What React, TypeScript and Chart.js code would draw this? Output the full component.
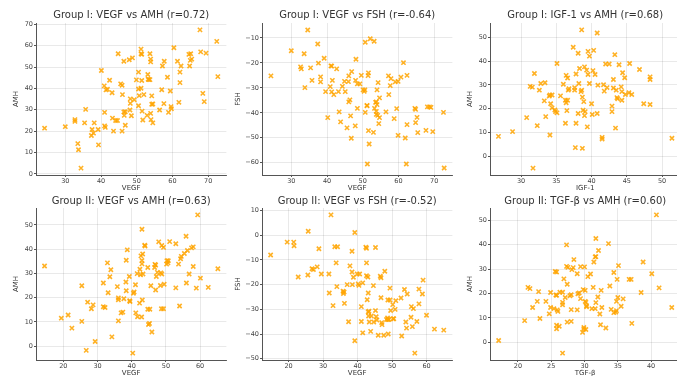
import React, { useEffect, useRef } from 'react';
import { Chart, registerables } from 'chart.js';

Chart.register(...registerables);

// ---------- DATA ----------
const g1VegfAmh: number[][] = [
  [24.2,21.4],[30.0,22.1],[32.7,25.4],[32.7,24.6],[35.4,23.9],[35.7,30.2],[33.5,14.2],[33.7,11.3],[34.4,2.7],[37.5,20.8],
  [37.3,18.0],[38.1,23.9],[37.9,19.1],[39.2,20.8],[39.3,13.6],[40.1,48.4],[40.9,41.2],[41.0,28.8],[41.0,22.5],[41.2,21.8],
  [41.4,39.3],[41.8,39.6],[42.4,43.8],[43.1,38.0],[43.2,26.1],[43.5,20.0],[44.1,25.0],[44.6,25.0],[44.8,56.2],[45.5,42.1],
  [45.9,41.5],[46.0,37.1],[45.9,20.0],[46.4,52.7],[46.4,29.0],[46.5,27.4],[46.8,29.1],[46.8,22.8],[47.9,53.4],[48.1,29.9],
  [48.2,35.1],[48.2,33.0],[48.5,27.2],[48.8,54.3],[49.3,34.7],[49.9,44.0],[50.5,47.6],[50.5,39.7],[50.5,31.9],[50.7,36.6],
  [51.2,40.1],[51.2,58.4],[51.2,56.2],[51.4,56.0],[51.4,43.7],[51.5,29.4],[51.7,25.2],[52.0,37.1],[52.9,27.4],[53.1,46.5],
  [53.2,44.3],[53.4,44.1],[53.7,44.1],[53.7,56.2],[53.9,53.7],[53.9,52.4],[53.9,28.3],[54.0,25.4],[54.2,36.5],[54.2,32.6],
  [54.5,32.7],[54.5,23.9],[56.4,29.9],[57.0,39.4],[57.2,50.5],[57.6,32.9],[57.7,52.7],[58.6,45.2],[58.9,28.8],[59.4,38.8],
  [59.6,31.5],[59.7,30.5],[60.4,59.0],[61.4,52.7],[61.8,33.5],[62.1,42.7],[62.1,47.6],[62.4,50.5],[64.6,55.9],[64.8,50.5],
  [65.0,53.1],[65.1,56.2],[65.4,53.7],[67.7,67.4],[67.9,57.1],[68.5,37.7],[68.9,33.8],[69.4,56.5],[72.4,62.0],[72.7,45.5],
];

const g1VegfFsh: number[][] = [
  [24.3,-25.2],[30.0,-15.1],[32.6,-21.6],[32.8,-22.4],[33.6,-16.3],[33.8,-29.9],[34.6,-6.8],[35.4,-22.0],[35.8,-27.0],[37.4,-12.4],
  [37.6,-20.1],[38.2,-25.6],[38.2,-27.6],[39.2,-18.1],[39.6,-31.5],[40.2,-41.9],[41.1,-21.2],[41.3,-21.3],[41.3,-31.6],[40.9,-29.5],
  [41.5,-27.0],[41.9,-32.7],[42.7,-22.4],[43.2,-31.5],[43.4,-39.6],[43.8,-43.6],[44.3,-29.4],[44.9,-27.4],[45.1,-31.5],[45.6,-46.0],
  [46.0,-27.5],[46.1,-25.2],[46.1,-35.6],[46.4,-34.8],[46.6,-41.2],[46.8,-50.2],[46.9,-23.5],[47.9,-45.2],[48.0,-27.0],[48.1,-18.5],
  [48.5,-38.2],[48.5,-28.4],[49.2,-28.4],[49.6,-25.0],[50.1,-30.8],[50.4,-31.4],[50.6,-30.8],[50.7,-11.7],[50.7,-39.8],[51.2,-37.0],
  [51.2,-37.2],[51.3,-60.5],[51.5,-25.1],[51.6,-24.0],[51.6,-47.1],[51.8,-52.5],[52.1,-10.3],[53.2,-11.3],[53.0,-47.8],[53.3,-38.2],
  [53.6,-35.8],[53.8,-35.6],[53.8,-39.4],[53.8,-40.6],[54.0,-36.7],[54.0,-30.8],[54.2,-41.0],[54.3,-27.9],[54.5,-44.3],[54.7,-34.0],
  [54.7,-41.9],[56.5,-39.6],[57.2,-25.2],[57.3,-32.7],[57.7,-29.1],[57.9,-26.3],[58.8,-42.3],[59.1,-27.6],[59.5,-38.3],[59.9,-27.4],
  [59.9,-49.0],[60.7,-25.7],[61.4,-19.9],[61.9,-50.1],[62.2,-60.5],[62.4,-25.0],[62.4,-44.7],[64.6,-38.2],[64.8,-38.6],[64.8,-43.9],
  [65.2,-41.8],[65.4,-47.9],[67.7,-47.0],[68.1,-37.6],[68.7,-37.6],[69.1,-37.8],[69.6,-47.5],[72.6,-39.8],[72.8,-62.1],
];

const g1IgfAmh: number[][] = [
  [26.8,8.4],[28.8,10.4],[30.8,16.3],[31.9,34.8],[31.3,29.4],[31.6,29.1],[31.7,-4.9],[32.3,12.9],[32.6,27.8],[32.8,30.6],
  [33.4,30.9],[33.3,23.3],[33.5,16.7],[34.0,25.3],[34.1,25.8],[34.4,25.8],[34.1,9.0],[34.2,22.1],[34.4,20.4],[34.8,19.5],
  [34.9,18.8],[35.1,39.0],[35.1,18.3],[35.6,25.4],[36.0,30.3],[36.3,23.6],[36.3,13.9],[36.4,34.0],[36.4,22.5],[36.5,19.2],
  [36.6,32.9],[36.6,23.6],[36.7,27.8],[36.8,28.4],[37.4,45.8],[37.6,27.8],[37.6,28.9],[37.7,3.7],[37.8,13.9],[37.8,34.6],
  [38.1,43.3],[38.1,18.0],[38.3,36.9],[38.2,30.6],[38.5,27.2],[38.6,53.1],[38.6,27.8],[38.7,24.9],[38.7,3.4],[38.8,19.4],
  [38.9,23.0],[39.0,37.6],[39.0,17.1],[39.1,18.8],[39.3,36.2],[39.4,12.4],[39.5,44.1],[39.5,34.4],[39.7,42.1],[39.7,30.6],
  [40.0,22.1],[40.1,17.6],[40.2,36.0],[40.3,44.5],[40.5,34.4],[40.8,51.8],[40.9,29.9],[40.8,18.0],[41.5,8.0],[41.5,7.3],
  [41.7,30.1],[41.8,27.4],[42.0,38.8],[42.2,28.9],[42.5,38.8],[42.9,21.1],[42.9,18.8],[43.1,32.3],[43.1,28.7],[43.3,42.7],
  [43.4,11.9],[43.5,27.8],[43.6,24.7],[43.7,24.2],[43.9,38.5],[44.2,29.2],[44.3,27.2],[44.3,23.6],[44.4,35.1],[44.7,33.0],
  [44.8,26.0],[45.3,26.7],[45.4,39.0],[45.7,26.0],[46.8,36.5],[47.4,22.1],[48.3,21.8],[48.3,33.4],[48.3,32.3],[51.4,7.6],
];

const g2VegfAmh: number[][] = [
  [14.5,33.0],[19.4,11.5],[21.4,12.8],[22.5,7.4],[25.4,24.9],[25.4,10.2],[26.7,-1.8],[27.1,18.1],[28.2,15.4],[28.7,17.0],
  [29.3,1.9],[31.7,26.0],[31.7,16.2],[32.2,15.9],[32.9,34.3],[33.1,22.0],[33.6,28.6],[33.9,31.5],[34.2,3.8],[35.8,24.5],
  [36.1,19.9],[36.1,19.1],[36.1,10.4],[36.9,13.7],[37.4,14.0],[37.7,19.5],[38.3,26.4],[38.4,35.4],[38.4,22.8],[38.7,39.7],
  [39.3,28.7],[39.4,18.7],[39.5,18.4],[40.3,-2.9],[40.5,21.8],[40.7,22.3],[41.1,25.3],[41.2,13.7],[41.6,29.9],[41.7,12.1],
  [42.3,17.7],[42.4,31.7],[42.6,29.4],[42.7,37.2],[42.9,12.0],[43.0,48.2],[43.0,35.3],[43.0,33.9],[43.1,19.0],[43.2,38.0],
  [43.3,29.7],[43.8,41.6],[43.9,41.3],[44.7,32.4],[44.7,15.2],[44.9,8.9],[45.2,9.3],[45.3,15.2],[45.6,24.9],[45.9,5.8],
  [46.7,32.4],[46.8,33.7],[47.0,23.1],[47.0,33.4],[47.2,28.7],[47.5,30.4],[47.9,43.0],[48.4,25.0],[48.5,30.2],[48.7,15.4],
  [48.8,41.5],[48.8,29.7],[49.3,40.7],[49.3,15.4],[49.5,25.5],[50.2,33.8],[50.3,35.2],[50.6,34.3],[50.7,35.2],[51.1,43.1],
  [52.9,42.2],[52.9,24.0],[53.7,33.8],[54.0,16.5],[54.3,36.0],[54.5,37.0],[55.4,38.2],[55.9,45.3],[56.0,26.0],[56.3,39.4],
  [56.8,29.7],[57.5,40.5],[58.0,32.8],[58.0,40.9],[58.9,23.9],[59.3,54.1],[60.1,28.0],[62.4,24.2],[65.2,31.9],
];

const g2VegfFsh: number[][] = [
  [14.8,-8.0],[19.6,-2.8],[21.5,-2.8],[21.6,-4.3],[22.8,-16.9],[25.7,1.6],[25.6,-16.1],[26.8,-13.6],[27.2,-13.9],[28.3,-12.8],
  [28.8,-5.5],[29.5,-15.7],[31.7,-15.7],[31.8,-23.4],[32.3,8.2],[32.9,-28.5],[33.4,-4.7],[33.8,-11.2],[34.0,-20.8],[34.2,-4.7],
  [35.8,-22.7],[35.9,-23.6],[36.1,-23.0],[36.2,-27.6],[37.0,-20.0],[37.4,-35.0],[37.8,-12.4],[38.4,-6.5],[38.4,-14.9],[38.5,-20.0],
  [38.8,-17.0],[39.2,1.1],[39.2,-42.7],[39.9,-15.7],[40.2,-19.7],[40.4,-20.3],[40.6,-15.7],[41.1,-28.9],[41.1,-34.9],[41.5,-19.3],
  [41.5,-39.5],[42.4,-4.9],[42.6,-5.3],[42.6,-16.4],[42.6,-11.2],[42.8,-26.1],[43.0,-16.9],[43.1,-23.4],[43.1,-31.1],[43.2,-32.7],
  [43.3,-30.8],[43.4,-35.1],[43.8,-38.9],[44.0,-32.7],[44.6,-20.4],[44.7,-35.1],[45.2,-5.0],[45.2,-30.5],[45.4,-33.0],[45.6,-34.3],
  [46.0,-40.5],[46.6,-16.6],[46.8,-17.2],[46.8,-25.3],[47.0,-35.4],[47.1,-36.2],[47.6,-40.5],[47.9,-14.6],[48.4,-34.1],[48.7,-33.5],
  [48.8,-26.2],[48.8,-34.1],[48.9,-40.0],[49.1,-34.1],[49.4,-26.2],[49.4,-21.4],[49.6,-30.5],[50.2,-28.1],[50.3,-33.8],[50.5,-33.8],
  [51.1,-26.5],[50.9,-30.0],[52.6,-25.4],[52.8,-40.8],[53.6,-22.0],[54.0,-35.1],[54.2,-37.6],[54.4,-23.8],[55.5,-33.2],[55.6,-28.9],
  [55.9,-37.0],[56.2,-29.7],[56.6,-47.7],[57.2,-34.9],[57.8,-27.8],[57.8,-21.8],[58.8,-23.8],[59.0,-18.2],[60.0,-32.4],[62.3,-38.0],
  [65.0,-38.4],
];

const g2TgfAmh: number[][] = [
  [17.1,0.8],[21.0,8.9],[21.5,22.5],[21.8,22.0],[22.2,14.3],[22.9,16.8],[23.1,20.8],[23.3,9.8],[24.2,16.8],[24.7,11.7],
  [24.9,20.4],[24.9,14.3],[25.4,13.8],[25.6,29.0],[25.7,19.4],[25.8,19.3],[25.8,28.8],[25.8,7.0],[25.8,5.6],[25.9,13.3],
  [26.0,12.7],[26.2,6.6],[26.3,20.5],[26.7,20.5],[26.7,16.4],[26.7,15.4],[26.7,-4.4],[26.9,26.0],[27.1,18.4],[27.3,39.9],
  [27.3,31.1],[27.4,23.8],[27.4,8.3],[27.5,30.7],[27.8,19.1],[28.0,19.5],[28.0,8.6],[28.0,13.4],[28.1,29.8],[28.3,30.6],
  [28.4,33.9],[28.9,13.3],[28.9,28.1],[29.0,19.9],[29.2,20.2],[29.4,31.0],[29.4,17.9],[29.7,4.1],[29.8,21.6],[29.9,6.1],
  [29.9,5.5],[30.0,30.9],[30.1,21.3],[30.1,16.8],[30.2,5.3],[30.2,16.4],[30.3,15.0],[30.3,14.6],[30.5,26.9],[30.9,28.0],
  [31.1,13.8],[31.3,22.5],[31.4,32.9],[31.6,13.8],[31.6,35.0],[31.7,16.3],[31.7,35.1],[31.7,42.5],[32.0,18.6],[32.1,37.6],
  [32.3,11.6],[32.4,7.2],[32.5,21.3],[32.6,14.3],[33.2,5.9],[33.6,40.4],[33.8,23.1],[34.0,13.5],[34.4,28.6],[34.4,12.2],
  [34.7,12.4],[34.8,16.8],[34.8,13.0],[34.9,25.8],[35.0,18.4],[35.1,31.4],[35.5,14.8],[35.8,17.8],[36.7,25.8],[37.0,25.8],
  [37.1,7.8],[38.5,20.4],[38.8,32.9],[40.1,28.1],[40.8,52.2],[41.2,22.3],[43.1,14.3],
];

const ticksVegfG1 = [30, 40, 50, 60, 70];
const ticksVegfG2 = [20, 30, 40, 50, 60];
const ticksIgf = [30, 35, 40, 45, 50];
const ticksTgf = [20, 25, 30, 35, 40];
const ticksAmhG1 = [0, 10, 20, 30, 40, 50, 60, 70];
const ticksAmh = [0, 10, 20, 30, 40, 50];
const ticksFshG1 = [-60, -50, -40, -30, -20, -10];
const ticksFshG2 = [-50, -40, -30, -20, -10, 0, 10];

// ---------- LAYOUT / STYLE ----------
const FONT = "'DejaVu Sans', 'Liberation Sans', sans-serif";
const MARKER = 'rgba(255,165,0,0.85)';
const PAD_L = 36, PAD_T = 23, PAD_R = 4, PAD_B = 24;
const AREA_W = 191, AREA_H = 152;

type PanelCfg = {
  title: string; xLabel: string; yLabel: string; data: number[][];
  xMin: number; xMax: number; yMin: number; yMax: number;
  xTicks: number[]; yTicks: number[];
  left: number; top: number; titleGap: number; yTitlePad: number;
};

const panels: PanelCfg[] = [
  { title: 'Group I: VEGF vs AMH (r=0.72)', xLabel: 'VEGF', yLabel: 'AMH', data: g1VegfAmh,
    xMin: 21.8, xMax: 75.1, yMin: -0.5, yMax: 70.6, xTicks: ticksVegfG1, yTicks: ticksAmhG1,
    left: 36, top: 23, titleGap: 8, yTitlePad: 12 },
  { title: 'Group I: VEGF vs FSH (r=-0.64)', xLabel: 'VEGF', yLabel: 'FSH', data: g1VegfFsh,
    xMin: 21.8, xMax: 75.1, yMin: -64.9, yMax: -4.0, xTicks: ticksVegfG1, yTicks: ticksFshG1,
    left: 262, top: 23, titleGap: 8, yTitlePad: 8 },
  { title: 'Group I: IGF-1 vs AMH (r=0.68)', xLabel: 'IGF-1', yLabel: 'AMH', data: g1IgfAmh,
    xMin: 25.6, xMax: 52.6, yMin: -7.8, yMax: 56.0, xTicks: ticksIgf, yTicks: ticksAmh,
    left: 490, top: 23, titleGap: 8, yTitlePad: 12 },
  { title: 'Group II: VEGF vs AMH (r=0.63)', xLabel: 'VEGF', yLabel: 'AMH', data: g2VegfAmh,
    xMin: 12.0, xMax: 67.7, yMin: -5.75, yMax: 56.95, xTicks: ticksVegfG2, yTicks: ticksAmh,
    left: 36, top: 208, titleGap: 6.5, yTitlePad: 12 },
  { title: 'Group II: VEGF vs FSH (r=-0.52)', xLabel: 'VEGF', yLabel: 'FSH', data: g2VegfFsh,
    xMin: 12.3, xMax: 67.5, yMin: -50.5, yMax: 11.0, xTicks: ticksVegfG2, yTicks: ticksFshG2,
    left: 262, top: 208, titleGap: 6.5, yTitlePad: 8 },
  { title: 'Group II: TGF-β vs AMH (r=0.60)', xLabel: 'TGF-β', yLabel: 'AMH', data: g2TgfAmh,
    xMin: 15.8, xMax: 44.4, yMin: -7.2, yMax: 55.0, xTicks: ticksTgf, yTicks: ticksAmh,
    left: 490, top: 208, titleGap: 6.5, yTitlePad: 12 },
];

const fmt = (v: number) => (v < 0 ? '\u2212' + Math.abs(v) : String(v));

function ScatterPanel({ p }: { p: PanelCfg }) {
  const ref = useRef<HTMLCanvasElement>(null);
  useEffect(() => {
    const titlePlugin = {
      id: 'panelTitle',
      afterDraw(chart: any) {
        const { ctx, chartArea } = chart;
        ctx.save();
        ctx.font = `10px ${FONT}`;
        ctx.fillStyle = '#333';
        ctx.textAlign = 'center';
        ctx.textBaseline = 'middle';
        ctx.fillText(p.title, (chartArea.left + chartArea.right) / 2, chartArea.top - p.titleGap);
        ctx.restore();
      },
    };
    const gridOpts = {
      color: 'rgba(0,0,0,0.11)', lineWidth: 0.8,
      drawTicks: true, tickLength: 2, tickColor: '#555', tickWidth: 1, tickBorderDash: [],
    };
    const borderOpts = { display: true, color: '#555', width: 1, dash: [] };
    const tickFont = { family: FONT, size: 6.5 };
    const chart = new Chart(ref.current as HTMLCanvasElement, {
      type: 'scatter',
      data: {
        datasets: [{
          data: p.data.map(([x, y]) => ({ x, y })),
          pointStyle: 'crossRot',
          radius: 3,
          hoverRadius: 3,
          borderColor: MARKER,
          backgroundColor: MARKER,
          borderWidth: 1.6,
        }],
      },
      options: {
        responsive: false,
        animation: false,
        devicePixelRatio: 1,
        events: [],
        layout: { padding: { left: 0, top: PAD_T, right: PAD_R, bottom: 0 } },
        plugins: { legend: { display: false }, tooltip: { enabled: false }, title: { display: false } },
        scales: {
          x: {
            type: 'linear', position: 'bottom', min: p.xMin, max: p.xMax,
            afterBuildTicks: (s: any) => { s.ticks = p.xTicks.map((v) => ({ value: v })); },
            afterFit: (s: any) => { s.height = PAD_B; },
            ticks: { font: tickFont, color: '#444', padding: 0, maxRotation: 0, callback: (v: any) => fmt(Number(v)) },
            grid: gridOpts, border: borderOpts,
            title: { display: true, text: p.xLabel, font: { family: FONT, size: 7 }, color: '#333', padding: { top: 0, bottom: 7 } },
          },
          y: {
            type: 'linear', position: 'left', min: p.yMin, max: p.yMax,
            afterBuildTicks: (s: any) => { s.ticks = p.yTicks.map((v) => ({ value: v })); },
            afterFit: (s: any) => { s.width = PAD_L; },
            ticks: { font: tickFont, color: '#444', padding: 1, callback: (v: any) => fmt(Number(v)) },
            grid: gridOpts, border: borderOpts,
            title: { display: true, text: p.yLabel, font: { family: FONT, size: 7 }, color: '#333', padding: { top: p.yTitlePad, bottom: 0 } },
          },
        },
      } as any,
      plugins: [titlePlugin],
    });
    return () => chart.destroy();
  }, [p]);
  return (
    <canvas
      ref={ref}
      width={PAD_L + AREA_W + PAD_R}
      height={PAD_T + AREA_H + PAD_B}
      style={{ position: 'absolute', left: p.left - PAD_L, top: p.top - PAD_T, width: PAD_L + AREA_W + PAD_R, height: PAD_T + AREA_H + PAD_B }}
    />
  );
}

export default function App() {
  return (
    <div style={{ position: 'fixed', left: 0, top: 0, width: 677, height: 376, overflow: 'hidden', background: '#fff' }}>
      {panels.map((p, i) => <ScatterPanel key={i} p={p} />)}
    </div>
  );
}
